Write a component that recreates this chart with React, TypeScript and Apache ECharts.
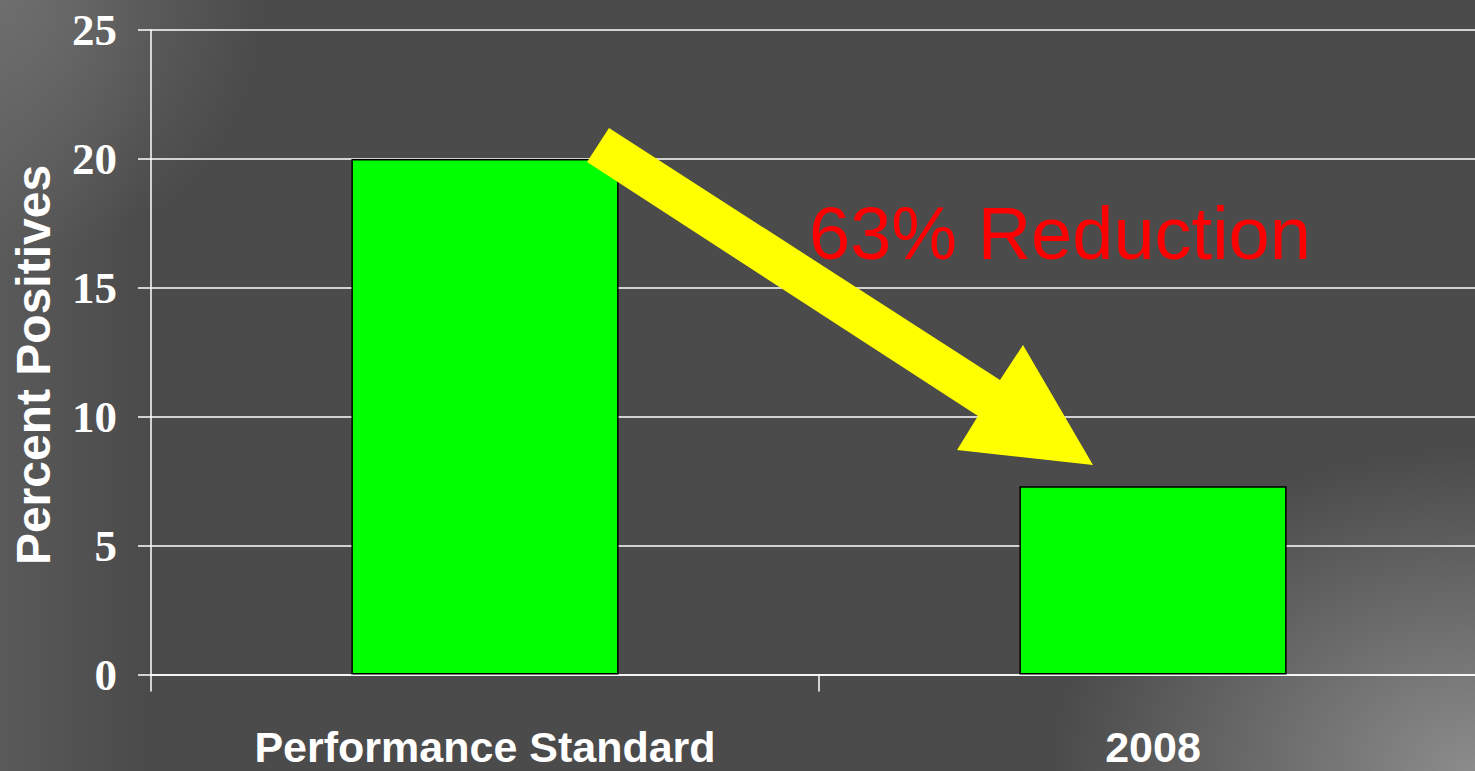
import React, { useEffect, useRef } from "react";
import * as echarts from "echarts";

const categories = ["Performance Standard", "2008"];
const values = [20, 7.3];
const yTicks = { min: 0, max: 25, interval: 5 };
const yTitle = "Percent Positives";
const annotation = "63% Reduction";

export default function App() {
  const ref = useRef<HTMLDivElement>(null);
  useEffect(() => {
    if (!ref.current) return;
    const chart = echarts.init(ref.current, null, { renderer: "svg" });
    chart.setOption({
      animation: false,
      backgroundColor: "transparent",
      grid: { left: 151, top: 30, bottom: 96.5, right: 3 },
      xAxis: {
        type: "category",
        data: categories,
        axisLine: { lineStyle: { color: "#ffffff", width: 1.5 } },
        axisTick: { show: true, length: 17, lineStyle: { color: "#ffffff", width: 1.5 } },
        axisLabel: {
          color: "#ffffff",
          fontFamily: "Arial, 'Liberation Sans', sans-serif",
          fontWeight: "bold",
          fontSize: 43,
          margin: 51,
        },
        splitLine: { show: false },
      },
      yAxis: {
        type: "value",
        min: yTicks.min,
        max: yTicks.max,
        interval: yTicks.interval,
        axisLine: { show: true, lineStyle: { color: "#ffffff", width: 1.5 } },
        axisTick: { show: true, length: 13, lineStyle: { color: "#ffffff", width: 1.5 } },
        axisLabel: {
          color: "#ffffff",
          fontFamily: "'Times New Roman', 'Liberation Serif', serif",
          fontWeight: "bold",
          fontSize: 45,
          margin: 34,
        },
        splitLine: { show: true, lineStyle: { color: "#ffffff", width: 1.5 } },
      },
      series: [
        {
          type: "bar",
          data: values,
          barWidth: "40%",
          itemStyle: { color: "#00ff00", borderColor: "#000000", borderWidth: 1.5 },
          z: 2,
        },
      ],
      graphic: [
        {
          type: "text",
          x: 33,
          y: 365,
          rotation: Math.PI / 2,
          style: {
            text: yTitle,
            fill: "#ffffff",
            font: "bold 48px Arial, 'Liberation Sans', sans-serif",
            textAlign: "center",
            textVerticalAlign: "middle",
          },
        },
        {
          type: "polygon",
          z: 100,
          shape: {
            points: [
              [609, 128],
              [1000, 380],
              [1023, 345],
              [1093, 465],
              [957, 450],
              [978, 416],
              [587, 162],
            ],
          },
          style: { fill: "#ffff00", stroke: "none" },
        },
        {
          type: "text",
          z: 101,
          x: 809,
          y: 233,
          style: {
            text: annotation,
            fill: "#ff0000",
            font: "74px Arial, 'Liberation Sans', sans-serif",
            textAlign: "left",
            textVerticalAlign: "middle",
          },
        },
      ],
    });
    return () => chart.dispose();
  }, []);
  return (
    <div
      style={{
        position: "absolute",
        left: 0,
        top: 0,
        width: 1475,
        height: 771,
        overflow: "hidden",
        background:
          "radial-gradient(ellipse 420px 320px at 100% 100%, rgba(140,140,140,1) 0%, rgba(75,75,75,0) 100%), radial-gradient(ellipse 260px 260px at 0% 0%, rgba(110,110,110,1) 0%, rgba(75,75,75,0) 100%), linear-gradient(to right, #5a5a5a 0px, #4b4b4b 140px), #4b4b4b",
      }}
    >
      <div ref={ref} style={{ position: "absolute", left: 0, top: 0, width: 1490, height: 771 }} />
    </div>
  );
}
